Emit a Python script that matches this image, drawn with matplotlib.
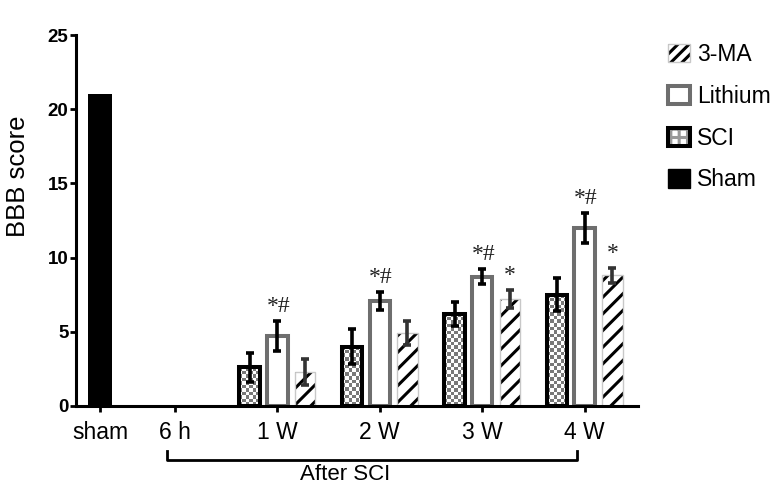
import numpy as np
import matplotlib
matplotlib.use("Agg")
import matplotlib.pyplot as plt
import matplotlib.transforms as mtransforms
from matplotlib.patches import Patch

plt.rcParams['font.family'] = ['Liberation Sans', 'DejaVu Sans']
plt.rcParams['hatch.linewidth'] = 2.2

# data
time_labels = ['sham', '6 h', '1 W', '2 W', '3 W', '4 W']
sham_value = 21.0
groups = ['1 W', '2 W', '3 W', '4 W']
sci_mean = [2.6, 4.0, 6.2, 7.5]
sci_err = [1.0, 1.2, 0.8, 1.1]
li_mean = [4.7, 7.1, 8.7, 12.0]
li_err = [1.0, 0.6, 0.5, 1.0]
ma_mean = [2.3, 4.9, 7.2, 8.8]
ma_err = [0.9, 0.8, 0.6, 0.5]
li_marks = ['*#', '*#', '*#', '*#']
ma_marks = ['', '', '*', '*']

# layout
tick_x = [0, 0.73, 1.73, 2.73, 3.73, 4.73]
grp_x = np.array(tick_x[2:])
off = 0.27
w = 0.2

fig = plt.figure(figsize=(7.74, 4.87), dpi=100)
ax = fig.add_axes([76 / 774, 1 - 406 / 487, (638 - 76) / 774, (406 - 35) / 487])

# sham
ax.bar(tick_x[0], sham_value, width=0.235, color='black', edgecolor='black', linewidth=0)

# SCI: checker fill + thick black border
px_per_unit = 14.84
for x, v in zip(grp_x - off, sci_mean):
    ncol = 6
    nrow = max(1, int(round(v * px_per_unit / 3.6)))
    chk = (np.add.outer(np.arange(nrow), np.arange(ncol)) % 2).astype(float)
    ax.imshow(chk, extent=[x - w / 2, x + w / 2, 0, v], cmap='gray',
              vmin=-0.9, vmax=1.0, interpolation='nearest', aspect='auto', zorder=1)
ax.bar(grp_x - off, sci_mean, width=w, facecolor='none', edgecolor='black', linewidth=2.9, zorder=2)
ax.errorbar(grp_x - off, sci_mean, yerr=sci_err, fmt='none', ecolor='black',
            elinewidth=2.6, capsize=3.2, capthick=2.6, zorder=3)

# Lithium
ax.bar(grp_x, li_mean, width=w, facecolor='white', edgecolor='#6e6e6e', linewidth=2.9, zorder=2)
ax.errorbar(grp_x, li_mean, yerr=li_err, fmt='none', ecolor='black',
            elinewidth=2.6, capsize=3.2, capthick=2.6, zorder=3)

# 3-MA
ax.bar(grp_x + off, ma_mean, width=w, facecolor='white', edgecolor='black', linewidth=0,
       hatch='//', zorder=2)
ax.bar(grp_x + off, ma_mean, width=w, facecolor='none', edgecolor='#c8c8c8', linewidth=1.0, zorder=2)
ax.errorbar(grp_x + off, ma_mean, yerr=ma_err, fmt='none', ecolor='#333333',
            elinewidth=2.6, capsize=3.2, capthick=2.6, zorder=3)

# significance marks
for x, v, e, s in zip(grp_x, li_mean, li_err, li_marks):
    ax.annotate(s, (x, v + e), xytext=(1, 3), textcoords='offset points', ha='center',
                va='bottom', fontsize=17, family=['Liberation Serif'], color='#222222')
for x, v, e, s in zip(grp_x + off, ma_mean, ma_err, ma_marks):
    if s:
        ax.annotate(s, (x, v + e), xytext=(0, 3), textcoords='offset points', ha='center',
                    va='bottom', fontsize=17, family=['Liberation Serif'], color='#222222')

ax.set_xlim(-0.234, 5.25)
ax.set_ylim(0, 25)
ax.set_yticks([0, 5, 10, 15, 20, 25])
ax.set_xticks(tick_x)
ax.set_xticklabels(time_labels, fontsize=16.5)
for lab in ax.get_yticklabels():
    lab.set_fontweight('bold')
    lab.set_fontsize(13.5)
ax.tick_params(axis='y', length=4, width=2, pad=1.5)
ax.tick_params(axis='x', length=4, width=2, pad=7)
for s in ['top', 'right']:
    ax.spines[s].set_visible(False)
for s in ['left', 'bottom']:
    ax.spines[s].set_linewidth(2.2)

fig.text(18 / 774, 1 - 176 / 487, 'BBB score', rotation=90, ha='center', va='center', fontsize=18.5)

# bracket under the axis
tr = mtransforms.blended_transform_factory(ax.transData, fig.transFigure)
yb = 1 - 460 / 487
yt = 1 - 451 / 487
ax.plot([0.65, 0.65, 4.65, 4.65], [yt, yb, yb, yt], transform=tr, color='black',
        linewidth=2, clip_on=False)
ax.text(2.39, 1 - 475 / 487, 'After SCI', transform=tr, ha='center', va='center', fontsize=16)

handles = [
    (Patch(facecolor='white', edgecolor='black', hatch='///', linewidth=0),
     Patch(facecolor='none', edgecolor='#c8c8c8', linewidth=1.0)),
    Patch(facecolor='white', edgecolor='#6e6e6e', linewidth=2.9),
    (Patch(facecolor='white', edgecolor='#999999', hatch='++', linewidth=0),
     Patch(facecolor='none', edgecolor='black', linewidth=2.9)),
    Patch(facecolor='black', edgecolor='black'),
]
fig.legend(handles, ['3-MA', 'Lithium', 'SCI', 'Sham'], loc='upper left',
           bbox_to_anchor=(668 / 774, 1 - 43 / 487), frameon=False, fontsize=16.5,
           handlelength=0.95, handleheight=0.85, handletextpad=0.3, labelspacing=0.82,
           borderpad=0, borderaxespad=0)

fig.savefig('out.png', dpi=100)
